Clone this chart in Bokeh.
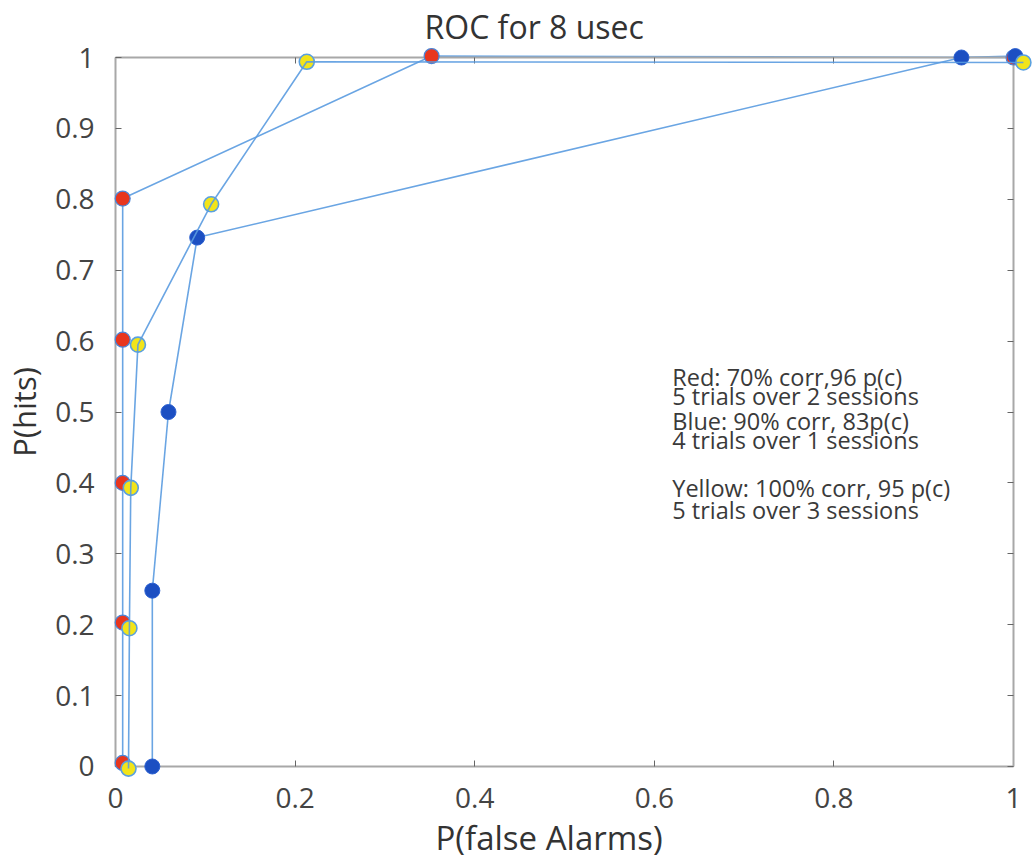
from bokeh.plotting import figure
from bokeh.models import Range1d, FixedTicker, Title, ColumnDataSource, LinearAxis
from bokeh.core.properties import value
from bokeh.embed import file_html
from bokeh.resources import INLINE

# ---- data ----
red_fa = [0.008, 0.008, 0.008, 0.008, 0.008, 0.352, 1.0]
red_hit = [0.005, 0.203, 0.400, 0.602, 0.801, 1.002, 1.0]
blue_fa = [0.041, 0.041, 0.059, 0.091, 0.942, 1.002]
blue_hit = [0.0, 0.248, 0.5, 0.746, 1.0, 1.002]
yellow_fa = [0.0145, 0.0155, 0.017, 0.025, 0.1065, 0.213, 1.011]
yellow_hit = [-0.003, 0.195, 0.393, 0.595, 0.793, 0.994, 0.993]

x_ticks = [0, 0.2, 0.4, 0.6, 0.8, 1]
y_ticks = [0, 0.1, 0.2, 0.3, 0.4, 0.5, 0.6, 0.7, 0.8, 0.9, 1]

notes = [
    "Red: 70% corr,96 p(c)",
    "5 trials over 2 sessions",
    "Blue: 90% corr, 83p(c)",
    "4 trials over 1 sessions",
    "Yellow: 100% corr, 95 p(c)",
    " 5 trials over 3 sessions",
]

title_text = "ROC for 8 usec"
x_label = "P(false Alarms)"
y_label = "P(hits)"

# ---- layout constants ----
FONT = "Open Sans"
AX_COLOR = "#a8a8a8"

p = figure(
    width=1032, height=861,
    x_range=Range1d(-0.0089, 1.02), y_range=Range1d(-0.0113, 1.0113),
    output_backend="svg", toolbar_location=None,
    min_border_left=107, min_border_right=1,
    min_border_top=49, min_border_bottom=87,
)
p.background_fill_color = "white"
p.border_fill_color = "white"
p.outline_line_color = None
p.xgrid.visible = False
p.ygrid.visible = False

p.title.text = title_text
p.title.align = "left"
p.title.offset = 317
p.title.text_font = FONT
p.title.text_font_size = "32px"
p.title.text_font_style = "normal"
p.title.text_color = "#333333"
p.title.standoff = 4

# main axes: tick labels only (at frame edge)
xa = p.xaxis[0]
ya = p.yaxis[0]
for ax in (xa, ya):
    ax.axis_line_color = None
    ax.major_tick_line_color = None
    ax.minor_tick_line_color = None
    ax.major_tick_in = 0
    ax.major_tick_out = 0
    ax.major_label_text_font = FONT
    ax.major_label_text_font_size = "28px"
    ax.major_label_text_color = "#444444"
    ax.major_label_overrides = {0: "0", 1: "1"}
xa.ticker = FixedTicker(ticks=x_ticks)
ya.ticker = FixedTicker(ticks=y_ticks)
xa.major_label_standoff = 13
ya.major_label_standoff = 13

ya.axis_label = y_label
ya.axis_label_text_font = FONT
ya.axis_label_text_font_size = "31px"
ya.axis_label_text_font_style = "normal"
ya.axis_label_text_color = "#333333"
ya.axis_label_standoff = 7


# box axes (lines + inward ticks at data 0 and 1, labels not drawn)
def box_axis(ticks, loc):
    ax = LinearAxis(ticker=FixedTicker(ticks=ticks), fixed_location=loc)
    ax.axis_line_color = AX_COLOR
    ax.axis_line_width = 2
    ax.major_tick_in = 6
    ax.major_tick_out = 0
    ax.major_tick_line_color = "#666666"
    ax.minor_tick_line_color = None
    ax.bounds = (0, 1)
    ax.major_label_text_font_size = "1px"
    ax.major_label_text_color = None
    ax.major_label_standoff = 0
    return ax


p.add_layout(box_axis(x_ticks, 1), "above")
p.add_layout(box_axis(y_ticks, 1), "right")
p.add_layout(box_axis(x_ticks, 0), "below")
p.add_layout(box_axis(y_ticks, 0), "left")

xt = Title(text=x_label, align="left", offset=328,
           text_font=FONT, text_font_size="33px",
           text_font_style="normal", text_color="#333333", standoff=4)
p.add_layout(xt, "below")

line_kw = dict(line_color="#5a9be0", line_width=1.6, line_alpha=0.9)

p.line(red_fa, red_hit, **line_kw)
p.line(blue_fa, blue_hit, **line_kw)
p.scatter(red_fa, red_hit, size=15, fill_color="#e8361e",
          line_color="#4a86d8", line_width=1.2, level="overlay")
p.scatter(blue_fa, blue_hit, size=15, fill_color="#1c4fc2",
          line_color="#2a5fd0", line_width=1.0, level="overlay")
p.scatter(yellow_fa, yellow_hit, size=15, fill_color="#f2e41a",
          line_color="#5aa0e0", line_width=1.6, level="overlay")
p.line(yellow_fa, yellow_hit, level="overlay", **line_kw)

# annotation block (baselines)
note_x = [0.62] * len(notes)
note_y = [0.550, 0.523, 0.488, 0.460, 0.393, 0.362]
src = ColumnDataSource(dict(x=note_x, y=note_y, t=notes))
p.text("x", "y", text="t", source=src, text_font=value(FONT),
       text_font_size="23.5px", text_color="#3a3a3a",
       text_baseline="alphabetic", text_align="left")

open("out.html", "w").write(file_html(p, INLINE))
